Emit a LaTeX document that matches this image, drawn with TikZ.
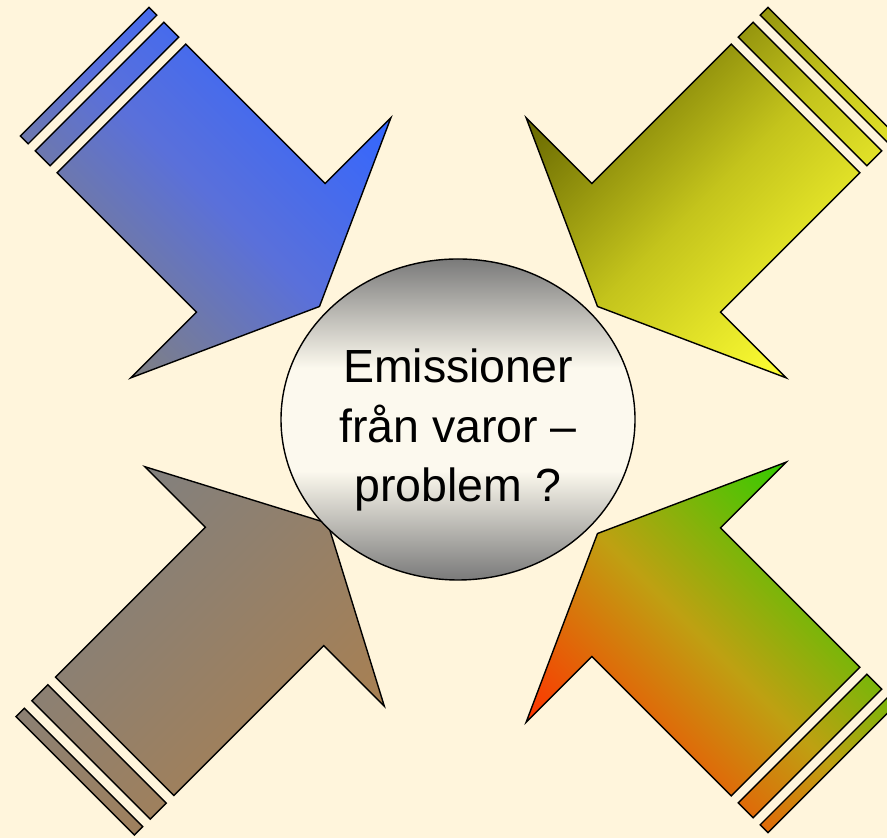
\documentclass[tikz,border=0pt]{standalone}
\usepackage{fontspec}
\setmainfont{Liberation Sans}
\usetikzlibrary{shapes.geometric}

\definecolor{paper}{HTML}{FFF5DC}
\definecolor{arrowblue}{HTML}{3366FF}
\definecolor{arrowgray}{HTML}{808080}
\definecolor{bluemid}{HTML}{5A70DA}
\definecolor{olivedark}{HTML}{666600}
\definecolor{olivemid}{HTML}{C4C41C}
\definecolor{lemon}{HTML}{FFFF33}
\definecolor{clay}{HTML}{AA8050}
\definecolor{leaf}{HTML}{33CC00}
\definecolor{leafmid}{HTML}{BFA012}
\definecolor{flame}{HTML}{FF3300}
\definecolor{ovalgray}{HTML}{7A7A7A}
\definecolor{ovallight}{HTML}{FCF9EE}

% grey at top and bottom, light band through the middle
\pgfdeclareverticalshading{ovalshading}{100bp}{%
  color(0bp)=(ovalgray); color(25bp)=(ovalgray); color(42bp)=(ovallight);
  color(58bp)=(ovallight); color(75bp)=(ovalgray); color(100bp)=(ovalgray)}

\tikzset{
  % two stripes behind a fat arrow, pointing along +x
  striparrow/.pic={
    \path[pic actions] (-52,-91) rectangle (-41,91)
      (-31,-91) rectangle (-10,91)
      (0,-91) -- (197,-91) -- (197,-184) -- (280,0) -- (197,184) -- (197,91) -- (0,91) -- cycle;
  },
  arrowline/.style={draw=black, line width=0.7pt}
}

\begin{document}
\begin{tikzpicture}[x=0.5pt, y=0.5pt]
    % Background
    \fill[paper] (0,0) rectangle (887,838);
    \useasboundingbox (0,0) rectangle (887,838);

    % Arrows towards the middle
    \pic[arrowline, top color=arrowblue, bottom color=arrowgray, middle color=bluemid, shading angle=-45, rotate=-45] (bluearrow) at (121.5,729.5) {striparrow};
    \pic[arrowline, top color=olivedark, bottom color=lemon, middle color=olivemid, shading angle=45, rotate=-135] (yellowarrow) at (795.5,729.5) {striparrow};
    \pic[arrowline, top color=arrowgray, bottom color=clay, shading angle=45, rotate=45, xscale=1.076, yscale=0.92] (brownarrow) at (114.7,101.7) {striparrow};
    \pic[arrowline, top color=leaf, bottom color=flame, middle color=leafmid, shading angle=-45, rotate=135] (greenarrow) at (795.5,106.5) {striparrow};

    % Centre oval
    \node[ellipse, draw, line width=0.7pt, shade, shading=ovalshading, minimum width=177pt, minimum height=160.5pt] (emis) at (458,418.5) {};
    \node[font=\fontsize{23.25}{29.75}\selectfont, align=center] (emistext) at (458,408) {Emissioner\\från varor –\\problem ?};
\end{tikzpicture}
\end{document}
